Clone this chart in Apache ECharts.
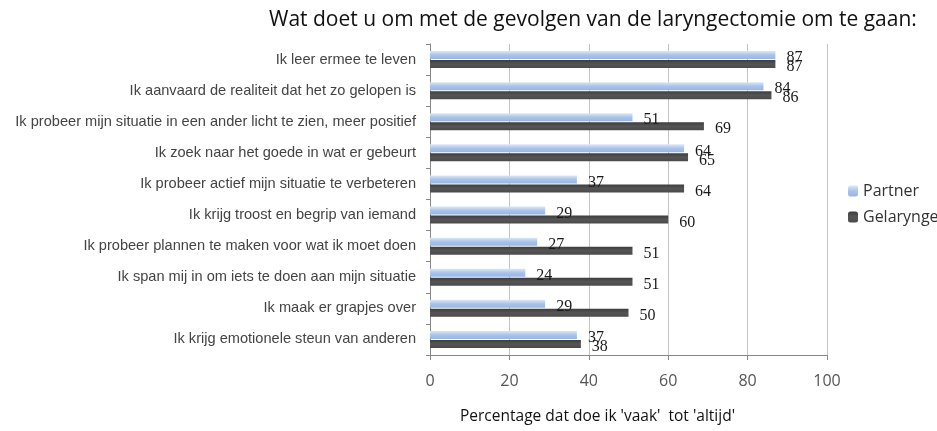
<!DOCTYPE html>
<html>
<head>
<meta charset="utf-8">
<script src="https://cdn.jsdelivr.net/npm/echarts@6/dist/echarts.min.js"></script>
<style>
  html, body { margin: 0; padding: 0; background: #fff; }
  #main { width: 937px; height: 431px; }
</style>
</head>
<body>
<div id="main"></div>
<script>
// uitspraken, van boven naar beneden
const categories = [
  'Ik leer ermee te leven',
  'Ik aanvaard de realiteit dat het zo gelopen is',
  'Ik probeer mijn situatie in een ander licht te zien, meer positief',
  'Ik zoek naar het goede in wat er gebeurt',
  'Ik probeer actief mijn situatie te verbeteren',
  'Ik krijg troost en begrip van iemand',
  'Ik probeer plannen te maken voor wat ik moet doen',
  'Ik span mij in om iets te doen aan mijn situatie',
  'Ik maak er grapjes over',
  'Ik krijg emotionele steun van anderen'
];
const partner = [87, 84, 51, 64, 37, 29, 27, 24, 29, 37];
const gelaryng = [87, 86, 69, 65, 64, 60, 51, 51, 50, 38];
const xTicks = [0, 20, 40, 60, 80, 100];

const myChart = echarts.init(document.getElementById('main'));

const valueLabel = {
  show: true,
  position: 'right',
  distance: 11,
  offset: [0, 3],
  fontFamily: 'Liberation Serif',
  fontSize: 16,
  color: '#1a1a1a'
};

const option = {
  animation: false,
  title: [
    {
      text: 'Wat doet u om met de gevolgen van de laryngectomie om te gaan:',
      left: 264,
      top: 5,
      textStyle: { fontFamily: 'Open Sans', fontSize: 21, fontWeight: 'normal', color: '#111' }
    },
    {
      text: "Percentage dat doe ik 'vaak'  tot 'altijd'",
      left: 455,
      top: 404,
      textStyle: { fontFamily: 'Open Sans', fontSize: 15.5, fontWeight: 'normal', color: '#111' }
    }
  ],
  legend: {
    orient: 'vertical',
    left: 843,
    top: 178,
    itemWidth: 10,
    itemHeight: 11,
    itemGap: 10,
    textStyle: { fontFamily: 'Open Sans', fontSize: 16, color: '#333' },
    data: ['Partner', 'Gelaryngectomeerden']
  },
  grid: { left: 430, right: 110, top: 44, bottom: 76 },
  xAxis: {
    type: 'value',
    min: 0,
    max: 100,
    interval: 20,
    axisLine: { show: true, lineStyle: { color: '#888' } },
    axisTick: { show: true, length: 5, lineStyle: { color: '#888' } },
    axisLabel: {
      margin: 18,
      fontFamily: 'Open Sans',
      fontSize: 16,
      color: '#555',
      formatter: v => xTicks.includes(v) ? String(v) : ''
    },
    splitLine: { show: true, lineStyle: { color: '#c4c4c4' } }
  },
  yAxis: {
    type: 'category',
    inverse: true,
    data: categories,
    axisLine: { show: true, lineStyle: { color: '#888' } },
    axisTick: { show: true, length: 4, lineStyle: { color: '#888' } },
    axisLabel: { margin: 14, fontFamily: 'Liberation Sans', fontSize: 14.6, color: '#444' }
  },
  series: [
    {
      name: 'Partner',
      type: 'bar',
      barWidth: 8,
      barGap: '12%',
      data: partner,
      itemStyle: {
        color: new echarts.graphic.LinearGradient(0, 0, 0, 1, [
          { offset: 0, color: '#dce7f7' },
          { offset: 0.5, color: '#a9c3ea' },
          { offset: 1, color: '#98b6e4' }
        ])
      },
      label: valueLabel
    },
    {
      name: 'Gelaryngectomeerden',
      type: 'bar',
      barWidth: 8,
      data: gelaryng,
      itemStyle: {
        color: new echarts.graphic.LinearGradient(0, 0, 0, 1, [
          { offset: 0, color: '#3d3d3d' },
          { offset: 0.5, color: '#555' },
          { offset: 1, color: '#4a4a4a' }
        ])
      },
      label: valueLabel
    }
  ]
};

myChart.setOption(option);
</script>
</body>
</html>
